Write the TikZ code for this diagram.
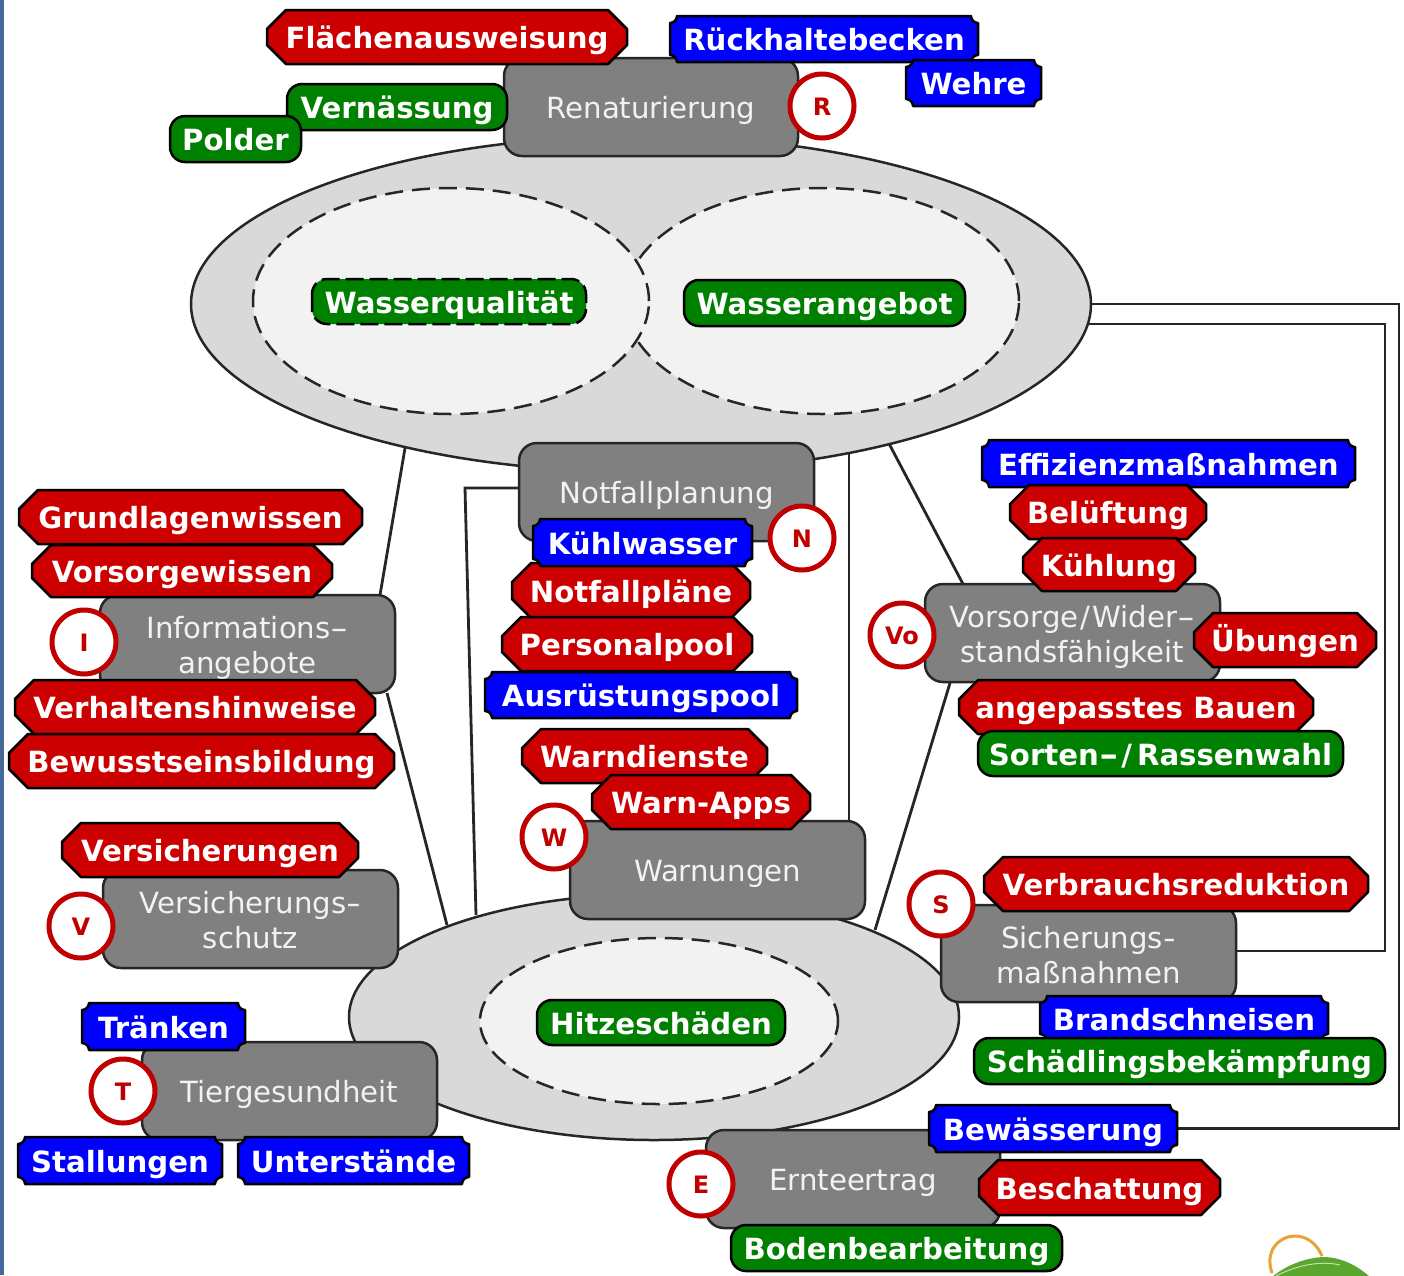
\documentclass[tikz,border=0pt]{standalone}
\usepackage{fontspec}
\usepackage{graphicx}
\setmainfont{DejaVu Sans}
\usetikzlibrary{shapes.geometric,backgrounds}
\definecolor{tagred}{HTML}{CC0000}
\definecolor{tagblue}{HTML}{0000FF}
\definecolor{taggreen}{HTML}{008000}
\definecolor{boxgray}{HTML}{808080}
\definecolor{edgedark}{HTML}{262626}
\definecolor{ringred}{HTML}{C00000}
\definecolor{ellgray}{HTML}{D9D9D9}
\definecolor{ellpale}{HTML}{F2F2F2}
\definecolor{stripblue}{HTML}{44699A}
\definecolor{logoorange}{HTML}{E8A238}
\definecolor{logogreen}{HTML}{5AA62E}
\definecolor{logopale}{HTML}{C4E0A8}
\newcommand{\widehy}[1]{\scalebox{#1}[1]{-}}
\tikzset{
  tagoutline/.style={draw=black,line width=2.5pt,line join=round},
  tagtext/.style={inner sep=0pt,outer sep=0pt,text=white,font=\fontsize{29.2}{34}\selectfont\bfseries,text height=23pt,text depth=0pt,rectangle},
  grayshape/.style={rectangle,rounded corners=18pt,draw=edgedark,fill=boxgray,line width=2.5pt,inner sep=0pt,outer sep=0pt},
  graytext/.style={inner sep=0pt,outer sep=0pt,text=ellpale,align=center,font=\fontsize{29.2}{35}\selectfont},
  ringstyle/.style={circle,draw=ringred,fill=white,line width=5pt,minimum size=64pt,inner sep=0pt,outer sep=0pt},
  ringtext/.style={inner sep=0pt,outer sep=0pt,text=ringred,font=\fontsize{24}{28}\selectfont\bfseries},
  bigell/.style={ellipse,draw=edgedark,fill=ellgray,line width=2.5pt,inner sep=0pt,outer sep=0pt},
  paleell/.style={ellipse,draw=edgedark,fill=ellpale,line width=2.5pt,inner sep=0pt,outer sep=0pt,dash pattern=on 18pt off 9pt},
  linkline/.style={draw=edgedark,line width=2.8pt,line join=miter}
}
\newcommand{\tagnode}[6]{\node[tagtext] (#1) at ({(#2+#4)/2},{(#3+#5)/2}) {#6};}
\newcommand{\redtag}[6]{%
  \path[tagoutline,fill=tagred] ({#2+19},#3) -- ({#4-19},#3) -- (#4,{#3+19}) -- (#4,{#5-19}) -- ({#4-19},#5) -- ({#2+19},#5) -- (#2,{#5-19}) -- (#2,{#3+19}) -- cycle;
  \tagnode{#1}{#2}{#3}{#4}{#5}{#6}}
\newcommand{\bluetag}[6]{%
  \path[tagoutline,fill=tagblue] ({#2+7},#3) -- ({#4-7},#3)
   .. controls ({#4-7},{#3+3.8}) and ({#4-3.8},{#3+7}) .. (#4,{#3+7}) -- (#4,{#5-7})
   .. controls ({#4-3.8},{#5-7}) and ({#4-7},{#5-3.8}) .. ({#4-7},#5) -- ({#2+7},#5)
   .. controls ({#2+7},{#5-3.8}) and ({#2+3.8},{#5-7}) .. (#2,{#5-7}) -- (#2,{#3+7})
   .. controls ({#2+3.8},{#3+7}) and ({#2+7},{#3+3.8}) .. ({#2+7},#3) -- cycle;
  \tagnode{#1}{#2}{#3}{#4}{#5}{#6}}
\newcommand{\greentag}[7][]{%
  \path[tagoutline,fill=taggreen,rounded corners=15pt,#1] (#3,#4) rectangle (#5,#6);
  \tagnode{#2}{#3}{#4}{#5}{#6}{#7}}
\newcommand{\grayitem}[7][-3.5pt]{%
  \node[grayshape,minimum width={(#5-#3)*1pt},minimum height={(#6-#4)*1pt}] (#2) at ({(#3+#5)/2},{(#4+#6)/2}) {};
  \node[graytext] (#2text) at ([yshift=#1]#2.center) {#7};}
\newcommand{\ring}[4]{%
  \node[ringstyle] (#1) at (#2,#3) {};
  \node[ringtext] (#1text) at ([yshift=-1pt]#1.center) {#4};}
\begin{document}
\begin{tikzpicture}[x=1pt,y=-1pt]
\useasboundingbox (0,0) rectangle (1404,1275);
\begin{pgfonlayer}{background}
\fill[white] (0,0) rectangle (1404,1275);
\end{pgfonlayer}
\fill[stripblue] (0,0) rectangle (4,1275);
% logo corner
\begin{scope}
\clip (1250,1225) rectangle (1404,1275);
\draw[draw=logoorange,line width=3pt] (1272,1273) .. controls (1264,1250) and (1280,1236) .. (1295,1236) .. controls (1307,1236) and (1317,1244) .. (1322,1256);
\fill[logogreen] (1272,1277) .. controls (1290,1262) and (1312,1257) .. (1325,1257) .. controls (1345,1258) and (1360,1268) .. (1370,1277) -- cycle;
\draw[logopale,line width=1pt] (1276,1276) .. controls (1295,1266) and (1320,1260) .. (1340,1265);
\end{scope}
% upper ellipse
\node[bigell,minimum width=900pt,minimum height=336pt] (big) at (641,304) {};
\node[paleell,minimum width=394pt,minimum height=226pt] (angebotell) at (822,301) {};
\node[paleell,minimum width=396pt,minimum height=226pt] (qualell) at (451,301) {};
\greentag[dashed,dash pattern=on 18pt off 6pt]{wq}{312}{279}{586}{324}{Wasserqualität}
\greentag{wa}{684}{280}{965}{326}{Wasserangebot}
% lower ellipse
\node[bigell,minimum width=610pt,minimum height=246pt] (heat) at (654,1017) {};
\node[paleell,minimum width=358pt,minimum height=166pt] (heatin) at (659,1021) {};
\greentag{hs}{537}{1000}{785}{1045}{Hitzeschäden}
% Renaturierung
\grayitem{ren}{504}{58}{798}{156}{Renaturierung}
\redtag{fl}{267}{10}{627}{64}{Flächenausweisung}
\bluetag{rb}{670}{16}{978}{62}{Rückhaltebecken}
\bluetag{we}{906}{60}{1041}{106}{Wehre}
\greentag{ve}{287}{84}{507}{130}{Vernässung}
\greentag{po}{170}{116}{301}{162}{Polder}
\ring{rR}{822}{106}{R}
% Notfallplanung
\grayitem{not}{519}{443}{814}{541}{Notfallplanung}
\ring{rN}{802}{538}{N}
\redtag{np}{512}{563}{750}{618}{Notfallpläne}
\bluetag{kw}{533}{519}{752}{566}{Kühlwasser}
\redtag{pp}{502}{617}{752}{671}{Personalpool}
\bluetag{ap}{485}{672}{797}{718}{Ausrüstungspool}
% Informationsangebote
\grayitem{inf}{100}{595}{395}{693}{Informations\widehy{1.7}\\angebote}
\ring{rI}{84}{642}{I}
\redtag{gw}{19}{490}{362}{544}{Grundlagenwissen}
\redtag{vw}{32}{545}{332}{597}{Vorsorgewissen}
\redtag{vh}{15}{680}{375}{734}{Verhaltenshinweise}
\redtag{bb}{9}{734}{394}{788}{Bewusstseinsbildung}
% Warnungen
\grayitem{war}{570}{821}{865}{919}{Warnungen}
\ring{rW}{554}{837}{W}
\redtag{wd}{522}{729}{767}{783}{Warndienste}
\redtag{wp}{592}{775}{810}{829}{Warn-Apps}
% Versicherung
\grayitem[-1.5pt]{vsc}{103}{870}{398}{968}{Versicherungs\widehy{1.4}\\schutz}
\ring{rV}{81}{926}{V}
\redtag{vs}{62}{823}{358}{877}{Versicherungen}
% Vorsorge
\grayitem{vor}{925}{584}{1220}{682}{Vorsorge\kern2pt/\kern2pt Wider\widehy{1.7}\\standsfähigkeit}
\ring{rVo}{902}{635}{Vo}
\bluetag{ef}{982}{440}{1355}{487}{Effizienzmaßnahmen}
\redtag{be}{1010}{485}{1206}{539}{Belüftung}
\redtag{ku}{1023}{538}{1195}{591}{Kühlung}
\redtag{ub}{1194}{613}{1376}{667}{Übungen}
\redtag{ab}{959}{680}{1313}{734}{angepasstes Bauen}
\greentag{so}{978}{731}{1343}{776}{Sorten\widehy{1.6}\kern3pt/\kern5pt Rassenwahl}
% Sicherung
\grayitem[-1.5pt]{sic}{941}{905}{1236}{1002}{Sicherungs\widehy{1.2}\\maßnahmen}
\ring{rS}{941}{904}{S}
\redtag{vr}{984}{857}{1368}{911}{Verbrauchsreduktion}
\bluetag{br}{1040}{996}{1328}{1041}{Brandschneisen}
\greentag{sb}{974}{1038}{1385}{1084}{Schädlingsbekämpfung}
% Tiergesundheit
\grayitem{tie}{142}{1042}{437}{1140}{Tiergesundheit}
\ring{rT}{123}{1091}{T}
\bluetag{tr}{82}{1003}{245}{1050}{Tränken}
\bluetag{st}{18}{1137}{222}{1184}{Stallungen}
\bluetag{un}{238}{1137}{469}{1184}{Unterstände}
% Ernteertrag
\grayitem{ern}{706}{1130}{1000}{1228}{Ernteertrag}
\ring{rE}{701}{1184}{E}
\bluetag{bw}{929}{1105}{1177}{1152}{Bewässerung}
\redtag{bs}{979}{1160}{1220}{1215}{Beschattung}
\greentag{bo}{731}{1225}{1062}{1271}{Bodenbearbeitung}
% connectors
\begin{pgfonlayer}{background}
\draw[linkline] ([shift={(-234.6,136)}]big.center) -- ([shift={(132.5,-49)}]inf.center);
\draw[linkline] ([shift={(139.5,49)}]inf.center) -- ([shift={(-207,-92)}]heat.center);
\draw[linkline] (not.west |- 0,488) -- ([shift={(-201.5,-4)}]not.center) -- ([shift={(-178,-102)}]heat.center);
\draw[linkline] ([shift={(208,141)}]big.center) -- ([shift={(131.5,-49)}]war.center);
\draw[linkline] ([shift={(244,132)}]big.center) -- ([shift={(-109.5,-49)}]vor.center);
\draw[linkline] ([shift={(-122.5,50)}]vor.center) -- ([shift={(221,-87)}]heat.center);
\draw[linkline] (big.east) -- ++(308,0) |- (bw.east);
\draw[linkline] ([shift={(447,20)}]big.center) -- ++(297,0) |- ([shift={(147.5,-2.5)}]sic.center);
\end{pgfonlayer}
\end{tikzpicture}
\end{document}
